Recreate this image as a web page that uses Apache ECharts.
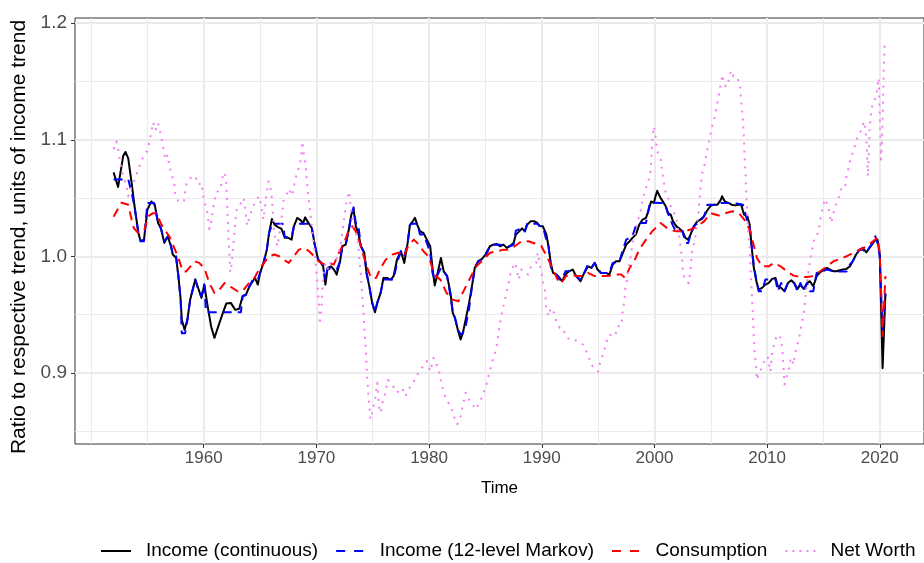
<!DOCTYPE html>
<html><head><meta charset="utf-8">
<script src="https://cdn.jsdelivr.net/npm/echarts@6/dist/echarts.min.js"></script>
<style>html,body{margin:0;padding:0;background:#fff}#c{width:924px;height:563px}</style>
</head><body><div id="c"></div>
<script>
const seriesNames = ['Income (continuous)','Income (12-level Markov)','Consumption','Net Worth'];
const xTickLabels = [1960,1970,1980,1990,2000,2010,2020];
const xMinorGrid = [1950,1955,1965,1975,1985,1995,2005,2015];
const yTickLabels = [0.9,1.0,1.1,1.2];
const yMinorGrid = [0.85,0.95,1.05,1.15];
const xTitle = 'Time';
const yTitle = 'Ratio to respective trend, units of income trend';

const incomeCont = [[1952.0,1.072],[1952.4,1.0595],[1952.85,1.086],[1953.05,1.0895],[1953.3,1.084],[1953.6,1.063],[1953.9,1.040],[1954.2,1.020],[1954.4,1.0129],[1954.7,1.0143],[1955.0,1.040],[1955.35,1.047],[1955.65,1.0443],[1955.95,1.0286],[1956.2,1.024],[1956.5,1.0115],[1956.8,1.017],[1957.1,1.0086],[1957.25,1.0015],[1957.55,0.9986],[1957.75,0.983],[1957.95,0.963],[1958.05,0.9457],[1958.3,0.937],[1958.55,0.9457],[1958.8,0.963],[1959.25,0.980],[1959.5,0.973],[1959.8,0.9643],[1960.05,0.9757],[1960.35,0.957],[1960.65,0.940],[1960.95,0.930],[1961.1,0.9314],[1961.4,0.943],[1961.7,0.9514],[1962.0,0.9594],[1962.4,0.960],[1962.8,0.954],[1963.15,0.955],[1963.45,0.9657],[1963.75,0.967],[1964.05,0.974],[1964.35,0.9786],[1964.55,0.9814],[1964.8,0.9757],[1965.0,0.9857],[1965.3,0.994],[1965.6,1.0057],[1965.8,1.020],[1966.05,1.032],[1966.3,1.027],[1966.6,1.025],[1966.9,1.0235],[1967.2,1.0158],[1967.5,1.0158],[1967.8,1.0143],[1968.0,1.0257],[1968.3,1.033],[1968.65,1.0306],[1968.8,1.028],[1969.0,1.0334],[1969.3,1.0286],[1969.6,1.024],[1969.85,1.010],[1970.15,0.9972],[1970.4,0.9943],[1970.6,0.9914],[1970.8,0.9757],[1971.0,0.990],[1971.3,0.9914],[1971.55,0.9886],[1971.8,0.9843],[1972.1,0.9957],[1972.3,1.0086],[1972.6,1.010],[1972.9,1.024],[1973.1,1.0358],[1973.3,1.040],[1973.5,1.0257],[1973.7,1.0206],[1973.95,1.0086],[1974.25,1.003],[1974.45,0.9857],[1974.7,0.974],[1974.95,0.960],[1975.2,0.952],[1975.4,0.960],[1975.7,0.9686],[1975.95,0.9814],[1976.25,0.9814],[1976.6,0.980],[1976.85,0.9829],[1977.15,0.997],[1977.5,1.0043],[1977.8,0.9943],[1978.1,1.0115],[1978.3,1.027],[1978.55,1.030],[1978.75,1.033],[1978.95,1.027],[1979.2,1.0214],[1979.5,1.020],[1979.8,1.0143],[1980.1,1.0086],[1980.3,0.990],[1980.5,0.975],[1980.7,0.983],[1981.05,0.9986],[1981.3,0.987],[1981.6,0.983],[1981.9,0.9686],[1982.1,0.9514],[1982.3,0.947],[1982.55,0.937],[1982.8,0.9286],[1983.0,0.9343],[1983.25,0.9457],[1983.55,0.960],[1983.85,0.977],[1984.05,0.990],[1984.35,0.9957],[1984.7,0.9977],[1985.0,1.0015],[1985.4,1.0086],[1985.7,1.010],[1986.0,1.0106],[1986.3,1.0086],[1986.6,1.010],[1986.9,1.0072],[1987.2,1.009],[1987.5,1.0115],[1987.7,1.0186],[1988.0,1.0214],[1988.25,1.024],[1988.5,1.0214],[1988.7,1.027],[1989.0,1.030],[1989.35,1.030],[1989.6,1.0286],[1989.8,1.026],[1990.1,1.0257],[1990.4,1.019],[1990.6,1.0086],[1990.8,0.9943],[1991.0,0.9857],[1991.3,0.9843],[1991.6,0.9814],[1991.8,0.9786],[1992.1,0.9843],[1992.4,0.9871],[1992.75,0.9886],[1993.05,0.983],[1993.45,0.9786],[1993.7,0.9843],[1994.1,0.9914],[1994.4,0.990],[1994.7,0.9943],[1994.95,0.9886],[1995.25,0.9857],[1995.7,0.9857],[1996.0,0.9843],[1996.3,0.9929],[1996.6,0.9957],[1996.9,0.9957],[1997.2,1.003],[1997.5,1.010],[1997.8,1.0129],[1998.05,1.0158],[1998.35,1.0186],[1998.65,1.027],[1998.95,1.0315],[1999.25,1.033],[1999.45,1.0386],[1999.7,1.047],[1999.95,1.0458],[2000.1,1.0515],[2000.25,1.0562],[2000.5,1.0508],[2000.75,1.047],[2001.0,1.043],[2001.2,1.037],[2001.45,1.0358],[2001.65,1.030],[2001.95,1.0257],[2002.25,1.0235],[2002.5,1.0214],[2002.75,1.0158],[2003.0,1.0143],[2003.2,1.0186],[2003.5,1.0257],[2003.8,1.030],[2004.1,1.0315],[2004.4,1.0343],[2004.7,1.0395],[2005.0,1.0435],[2005.3,1.0443],[2005.6,1.0443],[2005.9,1.0486],[2006.0,1.0515],[2006.25,1.047],[2006.55,1.0458],[2006.85,1.0443],[2007.15,1.0437],[2007.45,1.0443],[2007.7,1.0443],[2007.95,1.0358],[2008.25,1.0343],[2008.45,1.027],[2008.6,1.0115],[2008.8,0.9914],[2009.05,0.9786],[2009.25,0.9714],[2009.55,0.9729],[2009.85,0.9757],[2010.15,0.9771],[2010.45,0.9806],[2010.75,0.9814],[2010.95,0.9743],[2011.25,0.9729],[2011.55,0.970],[2011.85,0.9771],[2012.15,0.9794],[2012.4,0.9771],[2012.7,0.972],[2012.95,0.9757],[2013.25,0.972],[2013.55,0.9771],[2013.8,0.9786],[2014.1,0.9743],[2014.4,0.9829],[2014.7,0.9863],[2015.0,0.988],[2015.3,0.990],[2015.6,0.9886],[2015.9,0.9871],[2016.15,0.9871],[2016.45,0.988],[2016.75,0.9886],[2017.05,0.9892],[2017.35,0.9914],[2017.6,0.9957],[2017.9,1.0015],[2018.2,1.0057],[2018.5,1.0072],[2018.8,1.0034],[2019.1,1.0072],[2019.4,1.0115],[2019.6,1.0137],[2019.8,1.0143],[2020.0,1.001],[2020.25,0.904],[2020.5,0.968]];

const incomeMarkov = [[1952.0,1.066],[1953.3,1.066],[1953.6,1.055],[1953.9,1.040],[1954.2,1.020],[1954.4,1.0129],[1954.7,1.0129],[1955.0,1.0458],[1955.6,1.0458],[1955.95,1.0286],[1956.2,1.024],[1956.5,1.0129],[1956.8,1.017],[1957.1,1.0086],[1957.3,1.0],[1957.55,1.0],[1957.75,0.983],[1957.95,0.963],[1958.05,0.934],[1958.35,0.934],[1958.55,0.945],[1958.8,0.963],[1959.25,0.98],[1959.5,0.9714],[1959.8,0.9657],[1960.05,0.9757],[1960.2,0.952],[1963.3,0.952],[1963.45,0.9657],[1963.75,0.967],[1964.05,0.974],[1964.35,0.98],[1964.8,0.98],[1965.0,0.9857],[1965.3,0.994],[1965.6,1.0057],[1965.8,1.020],[1966.1,1.028],[1967.0,1.028],[1967.2,1.0166],[1967.8,1.0166],[1968.0,1.0257],[1968.3,1.028],[1969.3,1.028],[1969.6,1.024],[1969.85,1.010],[1970.15,0.9972],[1970.45,0.9943],[1970.6,0.9914],[1970.8,0.98],[1971.0,0.990],[1971.3,0.9886],[1971.8,0.9886],[1972.1,0.9957],[1972.3,1.0086],[1972.6,1.010],[1972.9,1.024],[1973.1,1.036],[1973.3,1.042],[1973.5,1.028],[1973.7,1.028],[1973.95,1.0086],[1974.25,1.003],[1974.45,0.9857],[1974.7,0.974],[1974.95,0.960],[1975.2,0.952],[1975.4,0.960],[1975.7,0.9686],[1975.95,0.98],[1976.85,0.98],[1977.15,0.9943],[1977.5,1.0043],[1977.8,1.0],[1978.1,1.0115],[1978.3,1.027],[1978.55,1.028],[1978.95,1.028],[1979.2,1.0186],[1979.5,1.0186],[1979.8,1.0115],[1980.1,1.003],[1980.3,0.9857],[1980.5,0.98],[1980.7,0.983],[1981.05,0.99],[1981.3,0.987],[1981.6,0.983],[1981.9,0.9657],[1982.1,0.953],[1982.3,0.947],[1982.55,0.937],[1982.8,0.933],[1983.0,0.934],[1983.25,0.94],[1983.55,0.955],[1983.85,0.977],[1984.05,0.9886],[1984.35,0.9957],[1984.7,0.9971],[1985.0,1.0],[1985.4,1.0086],[1985.7,1.010],[1986.3,1.010],[1986.6,1.0086],[1987.2,1.0086],[1987.5,1.01],[1987.7,1.022],[1988.25,1.024],[1988.5,1.0214],[1988.7,1.028],[1989.6,1.028],[1989.8,1.026],[1990.1,1.0257],[1990.4,1.0143],[1990.6,1.0086],[1990.8,0.991],[1991.0,0.9857],[1991.3,0.9843],[1991.6,0.98],[1991.8,0.98],[1992.1,0.9871],[1992.75,0.9871],[1993.05,0.983],[1993.45,0.98],[1993.7,0.9843],[1994.1,0.993],[1994.4,0.99],[1994.7,0.9943],[1994.95,0.99],[1995.25,0.9857],[1996.0,0.9857],[1996.3,0.9943],[1996.9,0.9957],[1997.2,1.0057],[1997.5,1.0143],[1998.05,1.0172],[1998.35,1.026],[1998.65,1.0286],[1999.25,1.0286],[1999.6,1.046],[2000.8,1.0458],[2001.0,1.043],[2001.2,1.037],[2001.65,1.026],[2001.95,1.0214],[2002.5,1.0214],[2002.75,1.0115],[2003.0,1.0115],[2003.2,1.0186],[2003.5,1.026],[2003.8,1.028],[2004.1,1.031],[2004.4,1.034],[2004.7,1.0443],[2005.6,1.0443],[2005.9,1.0458],[2007.0,1.0458],[2007.15,1.0443],[2007.85,1.0443],[2008.25,1.03],[2008.45,1.0257],[2008.6,1.0115],[2008.8,0.9943],[2009.05,0.979],[2009.25,0.970],[2009.55,0.970],[2009.85,0.98],[2010.75,0.98],[2010.95,0.970],[2011.25,0.9771],[2011.55,0.970],[2011.85,0.9771],[2012.4,0.9771],[2012.7,0.970],[2012.95,0.9771],[2013.25,0.970],[2013.55,0.9771],[2013.8,0.970],[2014.1,0.970],[2014.4,0.9857],[2014.7,0.9863],[2015.3,0.9886],[2015.9,0.987],[2017.05,0.987],[2017.35,0.993],[2017.6,0.9957],[2017.9,1.0015],[2018.2,1.0057],[2018.5,1.0057],[2018.8,1.003],[2019.1,1.008],[2019.4,1.0115],[2019.6,1.0172],[2019.8,1.0115],[2020.0,1.0],[2020.25,0.934],[2020.5,0.968]];

const consumption = [[1952.0,1.034],[1952.7,1.046],[1953.3,1.0443],[1953.6,1.0315],[1953.8,1.024],[1954.2,1.020],[1954.75,1.023],[1955.05,1.0343],[1955.5,1.037],[1955.8,1.037],[1956.25,1.027],[1956.95,1.017],[1957.7,1.0],[1958.15,0.987],[1958.45,0.987],[1959.2,0.9957],[1959.6,0.9943],[1960.05,0.990],[1960.5,0.977],[1960.95,0.9686],[1961.4,0.9714],[1961.85,0.977],[1962.4,0.9737],[1963.0,0.970],[1963.45,0.970],[1963.9,0.9757],[1964.5,0.9814],[1964.9,0.9886],[1965.35,0.9943],[1965.8,1.0],[1966.25,1.0015],[1966.7,1.0],[1967.1,0.997],[1967.55,0.9943],[1968.0,1.0],[1968.45,1.0057],[1968.9,1.0072],[1969.35,1.0043],[1969.8,1.0],[1970.2,0.9957],[1970.7,0.993],[1971.1,0.9943],[1971.55,0.993],[1972.0,1.003],[1972.45,1.0115],[1972.9,1.023],[1973.2,1.0257],[1973.5,1.0214],[1973.95,1.0086],[1974.4,0.993],[1974.85,0.9814],[1975.3,0.9814],[1975.7,0.990],[1976.15,0.997],[1976.75,1.0015],[1977.3,1.003],[1977.75,1.0],[1978.2,1.010],[1978.65,1.0143],[1979.1,1.010],[1979.5,1.0043],[1979.95,1.0],[1980.25,0.9914],[1980.6,0.983],[1981.0,0.980],[1981.55,0.9686],[1982.0,0.963],[1982.6,0.9614],[1982.9,0.967],[1983.35,0.9757],[1983.8,0.9843],[1984.2,0.9914],[1984.8,0.997],[1985.4,1.003],[1986.0,1.0043],[1986.6,1.0057],[1987.0,1.0057],[1987.6,1.0086],[1988.2,1.0129],[1988.8,1.0129],[1989.4,1.011],[1989.95,1.009],[1990.5,0.999],[1991.0,0.9886],[1991.4,0.980],[1991.7,0.9766],[1992.15,0.983],[1992.6,0.9843],[1993.05,0.983],[1993.65,0.983],[1994.1,0.9857],[1994.7,0.983],[1995.25,0.983],[1995.85,0.983],[1996.6,0.9843],[1997.05,0.9843],[1997.4,0.9814],[1997.8,0.990],[1998.2,0.9957],[1998.65,1.0057],[1999.25,1.0143],[1999.8,1.0214],[2000.55,1.0286],[2001.15,1.024],[2001.9,1.0214],[2002.65,1.0214],[2003.2,1.023],[2003.8,1.0257],[2004.4,1.030],[2005.0,1.037],[2005.7,1.035],[2006.3,1.037],[2006.9,1.0386],[2007.5,1.037],[2008.1,1.030],[2008.5,1.0214],[2008.8,1.010],[2009.1,0.9986],[2009.55,0.9914],[2010.15,0.9914],[2010.6,0.9943],[2011.2,0.9914],[2011.75,0.9871],[2012.35,0.9834],[2012.95,0.9823],[2013.55,0.9823],[2014.1,0.983],[2014.7,0.9871],[2015.3,0.9914],[2015.9,0.9957],[2016.45,0.9977],[2017.05,1.0],[2017.65,1.003],[2018.25,1.0057],[2018.85,1.0086],[2019.4,1.0129],[2019.8,1.0158],[2020.0,1.003],[2020.25,0.9314],[2020.5,0.983]];

const netWorth = [[1952.0,1.092],[1952.25,1.0986],[1952.45,1.090],[1952.55,1.083],[1952.85,1.0686],[1953.15,1.060],[1953.3,1.0515],[1953.6,1.060],[1953.9,1.0658],[1954.1,1.072],[1954.45,1.0815],[1954.7,1.0864],[1955.05,1.0915],[1955.2,1.0992],[1955.35,1.1063],[1955.5,1.115],[1955.7,1.108],[1955.95,1.1144],[1956.15,1.1063],[1956.3,1.0986],[1956.45,1.0915],[1956.6,1.083],[1956.8,1.087],[1956.9,1.080],[1957.1,1.072],[1957.4,1.0615],[1957.45,1.054],[1957.75,1.047],[1958.25,1.047],[1958.35,1.0557],[1958.5,1.0635],[1958.8,1.067],[1959.25,1.069],[1959.5,1.0615],[1959.8,1.063],[1959.9,1.054],[1960.05,1.047],[1960.3,1.0386],[1960.5,1.0235],[1960.7,1.0315],[1960.8,1.040],[1960.95,1.047],[1961.1,1.055],[1961.45,1.0566],[1961.6,1.0643],[1961.75,1.072],[1961.9,1.070],[1962.0,1.063],[1962.1,1.04],[1962.2,1.015],[1962.35,0.9863],[1962.45,0.991],[1962.55,1.0023],[1962.7,1.0177],[1962.85,1.0343],[1962.95,1.0415],[1963.35,1.0463],[1963.55,1.050],[1963.75,1.0343],[1963.85,1.0263],[1963.95,1.030],[1964.2,1.0377],[1964.5,1.0452],[1964.9,1.0515],[1965.05,1.0458],[1965.2,1.0372],[1965.3,1.0315],[1965.4,1.040],[1965.5,1.047],[1965.6,1.0557],[1965.75,1.0643],[1965.95,1.0572],[1966.05,1.0492],[1966.25,1.0214],[1966.35,1.0143],[1966.55,1.0086],[1966.8,1.025],[1967.0,1.0395],[1967.05,1.047],[1967.3,1.0515],[1967.55,1.0578],[1967.85,1.052],[1968.0,1.060],[1968.15,1.0672],[1968.3,1.0715],[1968.5,1.0786],[1968.65,1.0844],[1968.75,1.0986],[1968.85,1.090],[1969.05,1.077],[1969.2,1.060],[1969.35,1.0458],[1969.5,1.0343],[1969.65,1.020],[1969.8,1.0086],[1969.95,0.9914],[1970.1,0.974],[1970.25,0.957],[1970.3,0.9414],[1970.45,0.9543],[1970.5,0.9686],[1970.65,0.9857],[1970.8,0.9943],[1971.05,0.9886],[1971.25,0.9943],[1971.55,0.997],[1971.85,0.9986],[1972.15,1.010],[1972.3,1.020],[1972.45,1.0315],[1972.6,1.043],[1972.75,1.050],[1972.9,1.0557],[1973.05,1.043],[1973.2,1.0315],[1973.35,1.023],[1973.5,1.020],[1973.65,1.0143],[1973.8,1.0],[1973.95,0.983],[1974.1,0.963],[1974.25,0.940],[1974.4,0.917],[1974.5,0.897],[1974.65,0.877],[1974.8,0.860],[1974.95,0.8585],[1975.2,0.877],[1975.4,0.8914],[1975.55,0.8714],[1975.7,0.8657],[1975.85,0.874],[1976.05,0.880],[1976.35,0.894],[1976.8,0.8885],[1977.15,0.883],[1977.6,0.887],[1977.9,0.880],[1978.35,0.8885],[1978.75,0.894],[1979.2,0.903],[1979.5,0.9057],[1979.8,0.910],[1980.1,0.9014],[1980.4,0.9129],[1980.55,0.9114],[1980.85,0.903],[1981.15,0.8885],[1981.45,0.8786],[1981.9,0.8714],[1982.2,0.8628],[1982.5,0.8557],[1982.8,0.8628],[1982.95,0.870],[1983.25,0.883],[1983.55,0.877],[1983.85,0.8728],[1984.15,0.8686],[1984.45,0.8743],[1984.75,0.880],[1985.05,0.8885],[1985.35,0.900],[1985.65,0.9114],[1985.95,0.920],[1986.25,0.940],[1986.4,0.9486],[1986.6,0.957],[1986.8,0.9657],[1987.0,0.974],[1987.15,0.9814],[1987.3,0.9886],[1987.65,0.9943],[1987.8,0.987],[1987.95,0.980],[1988.2,0.9886],[1988.5,0.9857],[1988.8,0.9843],[1989.05,0.9914],[1989.5,0.9943],[1989.65,1.003],[1989.8,0.9943],[1989.95,0.987],[1990.1,0.9786],[1990.3,0.970],[1990.4,0.9557],[1990.6,0.9486],[1990.8,0.9557],[1991.1,0.9514],[1991.3,0.944],[1991.6,0.9386],[1991.85,0.9386],[1992.15,0.9314],[1992.45,0.9286],[1992.75,0.929],[1993.2,0.927],[1993.65,0.9243],[1993.95,0.9186],[1994.25,0.9114],[1994.5,0.9057],[1994.8,0.9028],[1995.0,0.901],[1995.2,0.910],[1995.5,0.917],[1995.7,0.9257],[1996.0,0.9328],[1996.5,0.9314],[1996.75,0.940],[1997.05,0.940],[1997.2,0.9543],[1997.35,0.963],[1997.4,0.9714],[1997.6,0.9814],[1997.7,0.990],[1997.9,1.0],[1998.05,1.0115],[1998.25,1.0186],[1998.45,1.0257],[1998.6,1.033],[1998.8,1.040],[1998.95,1.0486],[1999.15,1.0557],[1999.5,1.0658],[1999.65,1.073],[1999.7,1.080],[1999.75,1.0887],[1999.8,1.0972],[1999.95,1.1115],[2000.1,1.103],[2000.25,1.090],[2000.55,1.084],[2000.7,1.0715],[2000.85,1.063],[2001.0,1.0544],[2001.2,1.0515],[2001.35,1.0443],[2001.55,1.0415],[2001.75,1.037],[2001.9,1.0343],[2002.05,1.0257],[2002.2,1.0172],[2002.35,1.0057],[2002.45,0.9986],[2002.5,0.990],[2002.65,0.9814],[2002.8,0.9786],[2003.05,0.977],[2003.15,0.9843],[2003.25,0.9929],[2003.3,1.0015],[2003.45,1.0086],[2003.6,1.0143],[2003.75,1.0257],[2003.9,1.037],[2004.0,1.0486],[2004.1,1.060],[2004.25,1.0715],[2004.4,1.0758],[2004.55,1.0844],[2004.7,1.0915],[2004.85,1.0986],[2005.05,1.109],[2005.3,1.1172],[2005.45,1.1244],[2005.6,1.133],[2005.75,1.140],[2005.9,1.1487],[2006.05,1.1558],[2006.2,1.1473],[2006.4,1.1453],[2006.6,1.1515],[2006.8,1.1595],[2007.0,1.1544],[2007.25,1.1544],[2007.6,1.1487],[2007.7,1.133],[2007.85,1.1172],[2007.95,1.100],[2008.0,1.0844],[2008.1,1.0686],[2008.15,1.053],[2008.25,1.037],[2008.3,1.023],[2008.45,1.0086],[2008.55,0.9857],[2008.65,0.9657],[2008.75,0.9486],[2008.8,0.9343],[2008.9,0.9171],[2009.05,0.9028],[2009.1,0.894],[2009.3,0.901],[2009.45,0.9028],[2009.75,0.910],[2010.05,0.914],[2010.3,0.901],[2010.45,0.917],[2010.65,0.9257],[2010.9,0.9328],[2011.2,0.930],[2011.35,0.9214],[2011.45,0.9057],[2011.55,0.890],[2011.75,0.897],[2011.95,0.9043],[2012.1,0.9129],[2012.35,0.9071],[2012.45,0.9157],[2012.65,0.9228],[2012.85,0.930],[2013.0,0.9386],[2013.15,0.9457],[2013.3,0.9543],[2013.45,0.970],[2013.65,0.9857],[2013.9,1.0015],[2014.05,1.0086],[2014.25,1.0172],[2014.55,1.020],[2014.75,1.033],[2014.95,1.0415],[2015.1,1.0492],[2015.4,1.0443],[2015.55,1.0357],[2015.7,1.0286],[2015.85,1.0357],[2016.1,1.0443],[2016.35,1.050],[2016.6,1.0586],[2016.9,1.0586],[2017.05,1.0686],[2017.2,1.0744],[2017.35,1.0815],[2017.65,1.090],[2017.85,1.0972],[2018.1,1.1044],[2018.4,1.1087],[2018.6,1.1158],[2018.75,1.107],[2018.85,1.0943],[2018.95,1.0686],[2019.05,1.0915],[2019.1,1.1087],[2019.25,1.1258],[2019.4,1.1315],[2019.55,1.1344],[2019.7,1.1387],[2019.85,1.150],[2019.9,1.153],[2020.0,1.120],[2020.05,1.1058],[2020.1,1.083],[2020.2,1.100],[2020.25,1.1172],[2020.3,1.137],[2020.35,1.160],[2020.45,1.1858]];

const FONT = '"Liberation Sans", Arial, Helvetica, sans-serif';
const colors = ['#000000','#0000FF','#FF0000','#EE82EE'];
const legendIcons = [
  'path://M0,0h30v2h-30z',
  'path://M0,0h9v2h-9zM18,0h9v2h-9z',
  'path://M0,0h9v2h-9zM18,0h9v2h-9z',
  'path://M0,0h2v2h-2zM7,0h2v2h-2zM14,0h2v2h-2zM21,0h2v2h-2zM28,0h2v2h-2z'
];

const grid = '#EBEBEB';
const gridLines = [].concat(
  xMinorGrid.map(v => ({xAxis: v, lineStyle: {color: grid, width: 1, type: 'solid'}})),
  xTickLabels.map(v => ({xAxis: v, lineStyle: {color: grid, width: 2, type: 'solid'}})),
  yMinorGrid.map(v => ({yAxis: v, lineStyle: {color: grid, width: 1, type: 'solid'}})),
  yTickLabels.map(v => ({yAxis: v, lineStyle: {color: grid, width: 2, type: 'solid'}}))
);

const dataSets = [incomeCont, incomeMarkov, consumption, netWorth];
const lineTypes = ['solid', [9, 6], [9, 6], [2, 6]];

const chart = echarts.init(document.getElementById('c'), null, {renderer: 'canvas'});
chart.setOption({
  animation: false,
  backgroundColor: '#ffffff',
  grid: {left: 75, right: -3.7, top: 18, bottom: 119, show: true, borderColor: '#333333', borderWidth: 1, backgroundColor: '#ffffff', containLabel: false},
  xAxis: {
    type: 'value', min: 1948.575, max: 2023.925,
    axisLine: {show: false}, splitLine: {show: false},
    axisTick: {show: true, customValues: xTickLabels, length: 4, lineStyle: {color: '#333333', width: 1}},
    axisLabel: {customValues: xTickLabels, color: '#4D4D4D', fontSize: 17, margin: 6, fontFamily: FONT, formatter: v => String(v)},
    name: xTitle, nameLocation: 'middle', nameGap: 36,
    nameTextStyle: {fontSize: 17, color: '#000000', fontFamily: FONT}
  },
  yAxis: {
    type: 'value', min: 0.8389, max: 1.2045,
    axisLine: {show: false}, splitLine: {show: false},
    axisTick: {show: true, customValues: yTickLabels, length: 4, lineStyle: {color: '#333333', width: 1}},
    axisLabel: {customValues: yTickLabels, color: '#4D4D4D', fontSize: 19, margin: 8, fontFamily: FONT, formatter: v => v.toFixed(1)}
  },
  graphic: [{
    type: 'text', x: 19.5, y: 237, rotation: Math.PI / 2, silent: true,
    style: {text: yTitle, fill: '#000000', font: '21px ' + FONT, align: 'center', verticalAlign: 'middle'}
  }],
  legend: {
    left: 96, top: 536, orient: 'horizontal', selectedMode: false,
    itemWidth: 30, itemHeight: 2, itemGap: 18,
    textStyle: {fontSize: 19, color: '#000000', fontFamily: FONT, padding: [0, 0, 0, 10], lineHeight: 20},
    data: seriesNames.map((n, i) => ({name: n, icon: legendIcons[i], itemStyle: {color: colors[i], borderWidth: 0}}))
  },
  series: [
    {type: 'line', data: [], z: 1, silent: true,
     markLine: {silent: true, z: 1, symbol: ['none', 'none'], label: {show: false}, emphasis: {disabled: true}, animation: false, data: gridLines}}
  ].concat(seriesNames.map((n, i) => ({
    name: n, type: 'line', data: dataSets[i], symbol: 'none', showSymbol: false, z: 10, silent: true,
    itemStyle: {color: colors[i]},
    lineStyle: {color: colors[i], width: 2, type: lineTypes[i], cap: 'butt', join: 'round'},
    emphasis: {disabled: true}
  })))
});
</script></body></html>
